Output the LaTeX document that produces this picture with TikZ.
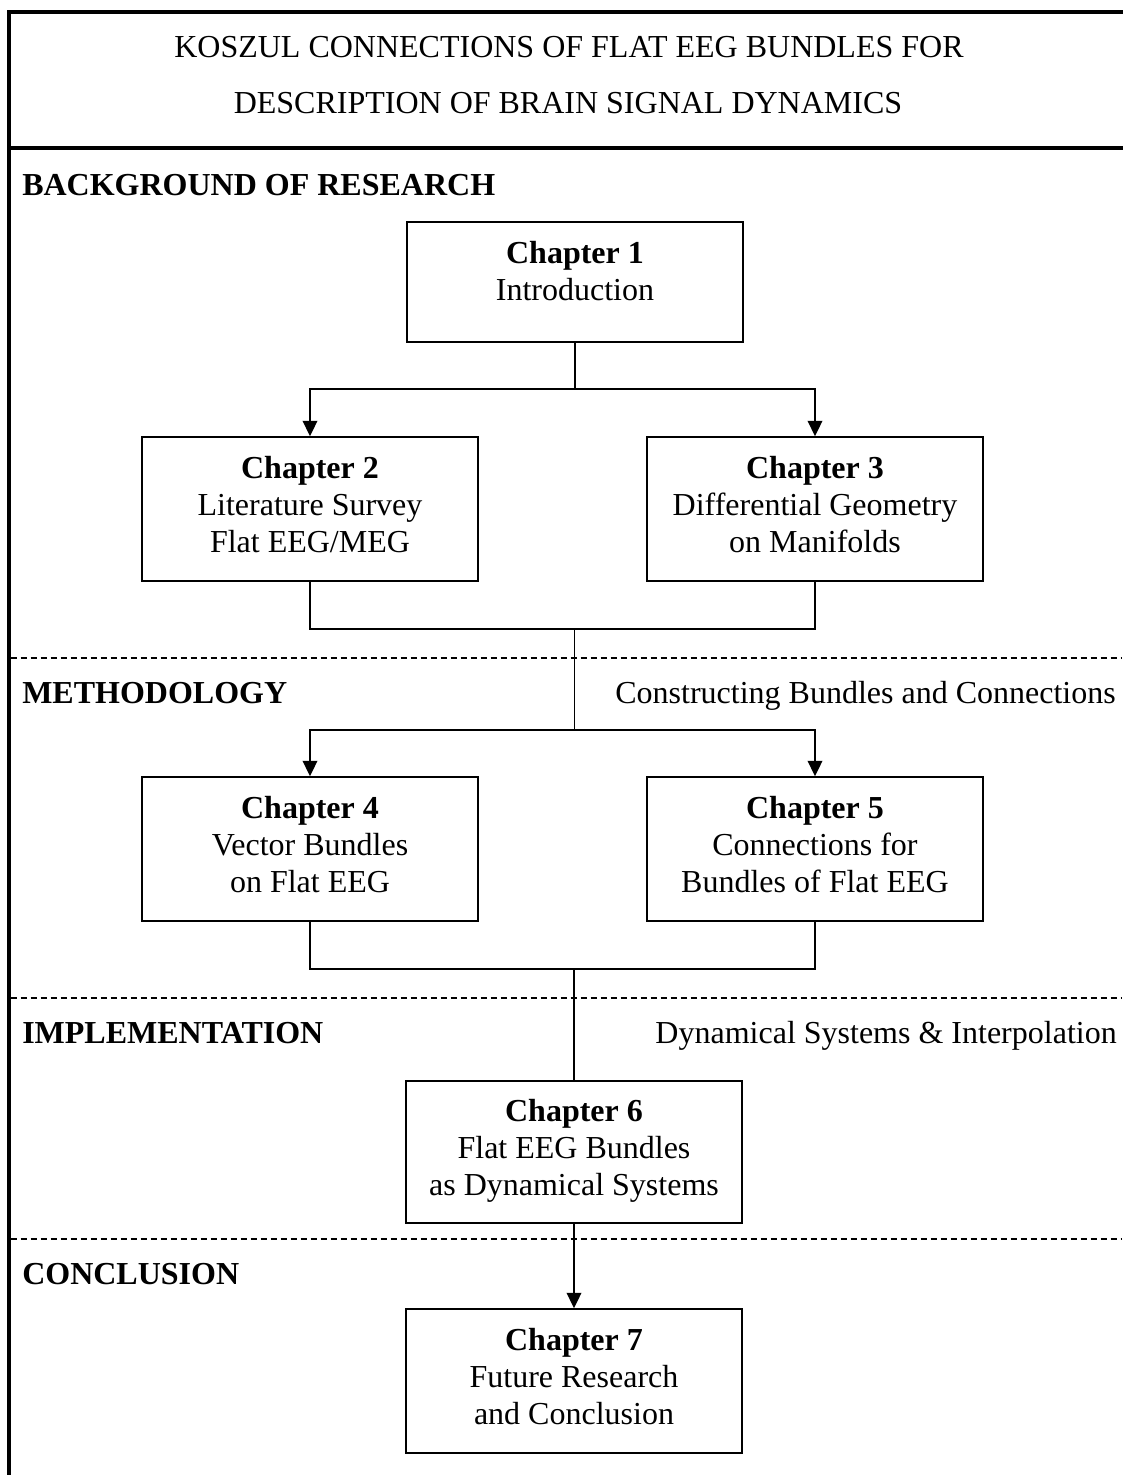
\documentclass[tikz,border=0pt]{standalone}
\usepackage{fontspec}
\setmainfont{Liberation Serif}
\usetikzlibrary{arrows.meta}
\newcommand\padbot[2]{\raisebox{0pt}[\height][\dimexpr\depth+#1\relax]{#2}}
\begin{document}
\begin{tikzpicture}[x=0.75pt,y=-0.75pt,
  chbox/.style={draw, line width=1.3pt, minimum width=252pt, minimum height=108pt,
    align=center, inner sep=0pt, font=\fontsize{24}{27.75}\selectfont},
  conn/.style={line width=1.3pt},
  arr/.style={conn, -{Triangle[length=11.5pt,width=11pt]}},
  sepline/.style={line width=1pt, dash pattern=on 4.5pt off 3pt},
  frameline/.style={line width=3pt, line join=miter},
  lbl/.style={font=\fontsize{24}{28}\selectfont, inner sep=0pt},
  sect/.style={lbl, font=\fontsize{24}{28}\selectfont\bfseries, anchor=base west},
]
\useasboundingbox (0,0) rectangle (1122,1475);

% frame
\draw[frameline] (8.7,1480) -- (8.7,11.5) -- (1130,11.5);
\draw[frameline] (8.7,148) -- (1130,148);

% title
\node[lbl, anchor=base] (t1) at (569,57) {KOSZUL CONNECTIONS OF FLAT EEG BUNDLES FOR};
\node[lbl, anchor=base] (t2) at (568,113) {DESCRIPTION OF BRAIN SIGNAL DYNAMICS};

% separators
\draw[sepline] (10.5,658) -- (1122,658);
\draw[sepline] (10.5,998) -- (1122,998);
\draw[sepline] (10.5,1239) -- (1122,1239);

% section labels
\node[sect] (s1) at (22,195) {BACKGROUND OF RESEARCH};
\node[sect] (s2) at (22,703) {METHODOLOGY};
\node[sect] (s3) at (22,1043) {IMPLEMENTATION};
\node[sect] (s4) at (22,1284) {CONCLUSION};
\node[lbl, anchor=base east] (r2) at (1116,703) {Constructing Bundles and Connections};
\node[lbl, anchor=base east] (r3) at (1117,1043) {Dynamical Systems \& Interpolation};

% chapter boxes
\node[chbox, minimum height=90pt] (c1) at (575,282) {\textbf{Chapter 1}\\\padbot{16.5pt}{Introduction}};
\node[chbox] (c2) at (310,509) {\textbf{Chapter 2}\\Literature Survey\\\padbot{6pt}{Flat EEG/MEG}};
\node[chbox] (c3) at (815,509) {\textbf{Chapter 3}\\Differential Geometry\\\padbot{6pt}{on Manifolds}};
\node[chbox] (c4) at (310,849) {\textbf{Chapter 4}\\Vector Bundles\\\padbot{6pt}{on Flat EEG}};
\node[chbox] (c5) at (815,849) {\textbf{Chapter 5}\\Connections for\\\padbot{6pt}{Bundles of Flat EEG}};
\node[chbox, minimum height=106.5pt] (c6) at (574,1152) {\textbf{Chapter 6}\\Flat EEG Bundles\\\padbot{1pt}{as Dynamical Systems}};
\node[chbox] (c7) at (574,1381) {\textbf{Chapter 7}\\Future Research\\\padbot{6pt}{and Conclusion}};

% junction points
\coordinate (j1) at (574.5,629);
\coordinate (j2) at (574.5,730);
\coordinate (j3) at (574,969);

% connectors
\draw[conn] (c1.south) -- (575,389);
\draw[arr] (575,389) -| (c2.north);
\draw[arr] (575,389) -| (c3.north);
\draw[conn] (c2.south) |- (j1) -| (c3.south);
\draw[conn] (j1) -- (j2);
\draw[arr] (j2) -| (c4.north);
\draw[arr] (j2) -| (c5.north);
\draw[conn] (c4.south) |- (j3) -| (c5.south);
\draw[conn] (j3) -- (c6.north);
\draw[arr] (c6.south) -- (c7.north);
\end{tikzpicture}
\end{document}
